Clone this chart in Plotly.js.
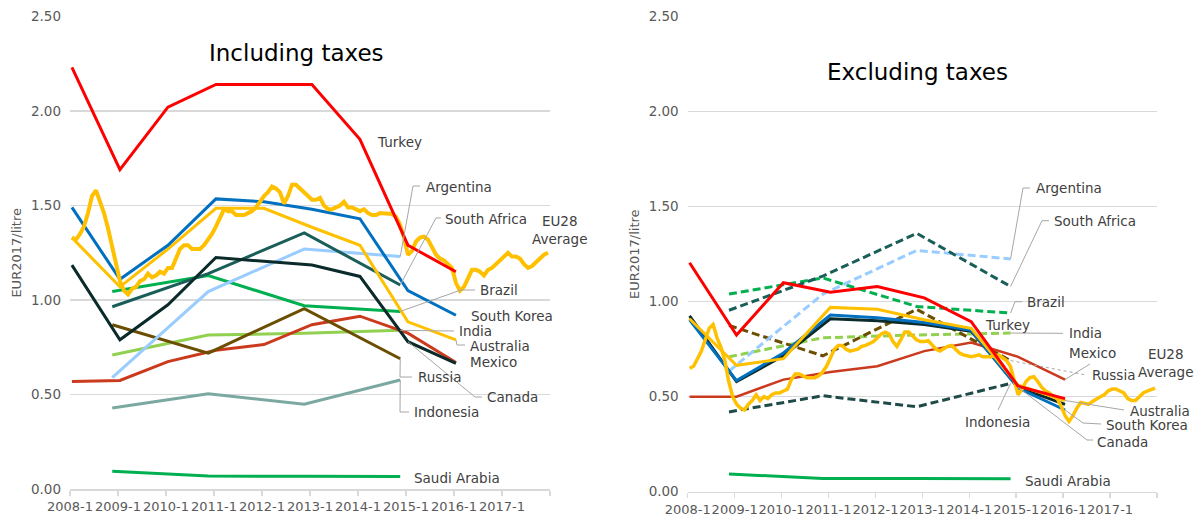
<!DOCTYPE html>
<html>
<head>
<meta charset="utf-8">
<script src="https://cdn.plot.ly/plotly-3.0.1.min.js"></script>
<style>html,body{margin:0;padding:0;background:#fff;}#chart{width:1203px;height:522px;}</style>
</head>
<body>
<div id="chart"></div>
<script>
// ---------- DATA ----------
const yearTicks = [2008, 2009, 2010, 2011, 2012, 2013, 2014, 2015, 2016, 2017, 2018];
const yearTickText = ['2008-1', '2009-1', '2010-1', '2011-1', '2012-1', '2013-1', '2014-1', '2015-1', '2016-1', '2017-1', ''];

// annual observations (January of each year)
const xJan = [2008.04, 2009.04, 2010.04, 2011.04, 2012.04, 2013.04, 2014.04, 2015.04, 2016.04];
// biennial observations (end of year)
const xDec = [2008.88, 2010.88, 2012.88, 2014.88];

// Including taxes (EUR2017/litre)
const turkeyInc      = [2.23, 1.69, 2.02, 2.14, 2.14, 2.14, 1.85, 1.29, 1.15];
const southKoreaInc  = [1.49, 1.11, 1.29, 1.535, 1.52, 1.48, 1.43, 1.05, 0.92];
const australiaInc   = [1.33, 1.07, 1.27, 1.485, 1.485, 1.385, 1.29, 0.885, 0.79];
const canadaInc      = [1.185, 0.79, 0.975, 1.225, 1.205, 1.185, 1.125, 0.78, 0.665];
const mexicoInc      = [0.57, 0.575, 0.675, 0.735, 0.765, 0.87, 0.915, 0.825, 0.67];
const argentinaInc   = [0.59, 1.045, 1.27, 1.23];
const southAfricaInc = [0.965, 1.14, 1.355, 1.08];
const brazilInc      = [1.045, 1.13, 0.97, 0.94];
const indiaInc       = [0.71, 0.815, 0.825, 0.84];
const russiaInc      = [0.87, 0.72, 0.955, 0.69];
const indonesiaInc   = [0.43, 0.505, 0.45, 0.578];
const saudiInc       = [0.095, 0.07, 0.069, 0.067];
const eu28Inc = [
  1.33, 1.32, 1.35, 1.39, 1.46, 1.55, 1.58, 1.52, 1.46, 1.38, 1.28, 1.18,
  1.10, 1.05, 1.03, 1.06, 1.07, 1.10, 1.11, 1.14, 1.12, 1.13, 1.15, 1.14,
  1.17, 1.17, 1.22, 1.27, 1.29, 1.29, 1.27, 1.27, 1.27, 1.29, 1.32, 1.35,
  1.39, 1.44, 1.48, 1.47, 1.47, 1.45, 1.45, 1.45, 1.46, 1.47, 1.49, 1.52,
  1.55, 1.57, 1.60, 1.59, 1.57, 1.51, 1.55, 1.61, 1.61, 1.59, 1.57, 1.55,
  1.53, 1.53, 1.54, 1.50, 1.48, 1.48, 1.49, 1.50, 1.52, 1.49, 1.49, 1.48,
  1.47, 1.48, 1.46, 1.45, 1.45, 1.46, 1.46, 1.46, 1.455, 1.44, 1.40, 1.33,
  1.24, 1.26, 1.31, 1.33, 1.335, 1.32, 1.28, 1.24, 1.22, 1.21, 1.19, 1.17,
  1.09, 1.05, 1.07, 1.11, 1.16, 1.16, 1.15, 1.13, 1.16, 1.17, 1.19, 1.21,
  1.23, 1.25, 1.23, 1.23, 1.22, 1.19, 1.17, 1.18, 1.20, 1.22, 1.24, 1.25
];

// Excluding taxes (EUR2017/litre)
const turkeyExc      = [1.205, 0.825, 1.10, 1.05, 1.08, 1.02, 0.895, 0.555, 0.49];
const southKoreaExc  = [0.905, 0.585, 0.73, 0.93, 0.915, 0.89, 0.85, 0.545, 0.43];
const australiaExc   = [0.91, 0.665, 0.70, 0.97, 0.96, 0.905, 0.86, 0.56, 0.48];
const canadaExc      = [0.925, 0.58, 0.715, 0.91, 0.90, 0.88, 0.845, 0.55, 0.46];
const mexicoExc      = [0.50, 0.50, 0.59, 0.63, 0.66, 0.74, 0.785, 0.71, 0.59];
const argentinaExc   = [0.635, 1.04, 1.27, 1.225];
const southAfricaExc = [0.955, 1.135, 1.36, 1.08];
const brazilExc      = [1.04, 1.125, 0.975, 0.94];
const indiaExc       = [0.71, 0.81, 0.825, 0.835];
const russiaExc      = [0.875, 0.715, 0.96, 0.69];
const indonesiaExc   = [0.42, 0.505, 0.447, 0.57];
const saudiExc       = [0.093, 0.07, 0.069, 0.068];
const eu28Exc = [
  0.65, 0.66, 0.70, 0.74, 0.80, 0.86, 0.88, 0.81, 0.76, 0.69, 0.58, 0.50,
  0.46, 0.44, 0.43, 0.46, 0.48, 0.51, 0.48, 0.50, 0.49, 0.51, 0.52, 0.52,
  0.53, 0.54, 0.59, 0.62, 0.62, 0.61, 0.60, 0.60, 0.60, 0.61, 0.63, 0.66,
  0.71, 0.75, 0.77, 0.77, 0.75, 0.74, 0.745, 0.75, 0.765, 0.77, 0.78, 0.79,
  0.81, 0.83, 0.84, 0.83, 0.79, 0.765, 0.80, 0.84, 0.84, 0.82, 0.80, 0.79,
  0.79, 0.795, 0.77, 0.75, 0.74, 0.755, 0.765, 0.77, 0.75, 0.73, 0.72, 0.715,
  0.71, 0.715, 0.72, 0.71, 0.71, 0.71, 0.715, 0.72, 0.705, 0.69, 0.66, 0.59,
  0.51, 0.54, 0.58, 0.60, 0.605, 0.58, 0.55, 0.53, 0.52, 0.50, 0.49, 0.45,
  0.40, 0.37, 0.40, 0.44, 0.47, 0.465, 0.46, 0.475, 0.49, 0.50, 0.51, 0.53,
  0.54, 0.54, 0.53, 0.52, 0.49, 0.48, 0.48, 0.50, 0.52, 0.53, 0.54, 0.545
];
// monthly positions 2008-1 .. 2017-12 (mid-month)
const xMonthly = eu28Inc.map((_, i) => 2008 + (i + 0.5) / 12);

// ---------- STYLE ----------
const C = {
  turkey: '#FF0000', southKorea: '#0070C0', australia: '#FFC000', eu28: '#FFC000',
  canada: '#0B2A2A', mexico: '#CC3A1E', argentina: '#99CCFF', southAfrica: '#1A5E5A',
  brazil: '#00B050', india: '#92D050', russia: '#6B4E00', indonesiaInc: '#7BA8A1',
  indonesiaExc: '#1E4A48', saudi: '#00B050'
};
const FONT = 'DejaVu Sans, Verdana, sans-serif';
const LABEL = '#404040';
const LEAD = '#A6A6A6';

function tr(x, y, color, width, axis, dash) {
  return {
    x: x, y: y, type: 'scatter', mode: 'lines', hoverinfo: 'skip', showlegend: false,
    xaxis: axis === 2 ? 'x2' : 'x', yaxis: axis === 2 ? 'y2' : 'y',
    line: { color: color, width: width, dash: dash || 'solid' }
  };
}
const D = '8px,4px';

const traces = [
  // Including taxes
  tr(xDec, saudiInc, C.saudi, 3, 1),
  tr(xDec, indonesiaInc, C.indonesiaInc, 3, 1),
  tr(xDec, indiaInc, C.india, 3, 1),
  tr(xJan, mexicoInc, C.mexico, 3, 1),
  tr(xDec, russiaInc, C.russia, 3, 1),
  tr(xDec, brazilInc, C.brazil, 3, 1),
  tr(xDec, argentinaInc, C.argentina, 3, 1),
  tr(xDec, southAfricaInc, C.southAfrica, 3, 1),
  tr(xJan, canadaInc, C.canada, 3, 1),
  tr(xJan, australiaInc, C.australia, 3, 1),
  tr(xJan, southKoreaInc, C.southKorea, 3, 1),
  tr(xMonthly, eu28Inc, C.eu28, 4, 1),
  tr(xJan, turkeyInc, C.turkey, 3, 1),
  // Excluding taxes
  tr(xDec, saudiExc, C.saudi, 3, 2),
  tr(xDec, indonesiaExc, C.indonesiaExc, 3, 2, D),
  tr(xDec, indiaExc, C.india, 3, 2, D),
  tr(xDec, russiaExc, C.russia, 3, 2, D),
  tr(xDec, brazilExc, C.brazil, 3, 2, D),
  tr(xDec, argentinaExc, C.argentina, 3, 2, D),
  tr(xDec, southAfricaExc, C.southAfrica, 3, 2, D),
  tr(xJan, mexicoExc, C.mexico, 2.5, 2),
  tr(xJan, canadaExc, C.canada, 3, 2),
  tr(xJan, southKoreaExc, C.southKorea, 3, 2),
  tr(xJan, australiaExc, C.australia, 3, 2),
  tr(xMonthly, eu28Exc, C.eu28, 3.5, 2),
  tr(xJan, turkeyExc, C.turkey, 3, 2)
];

// ---------- LAYOUT HELPERS (pixel -> axis / paper) ----------
const W = 1203, H = 522;
const L = { x0: 70, x1: 550, y0: 489.3, y1: 16.3 };
const R = { x0: 687.7, x1: 1157, y0: 491.7, y1: 16.7 };
const lx = px => 2008 + (px - L.x0) / (L.x1 - L.x0) * 10;
const ly = py => (L.y0 - py) / (L.y0 - L.y1) * 2.5;
const rx = px => 2008 + (px - R.x0) / (R.x1 - R.x0) * 10;
const ry = py => (R.y0 - py) / (R.y0 - R.y1) * 2.5;
const last = (xs, ys) => [xs[xs.length - 1], ys[ys.length - 1]];

function lead(pts, axis, dash) {
  const d = pts.map((p, i) => (i ? 'L' : 'M') + p[0] + ',' + p[1]).join(' ');
  return {
    type: 'path', path: d, xref: axis === 2 ? 'x2' : 'x', yref: axis === 2 ? 'y2' : 'y',
    line: { color: LEAD, width: 1, dash: dash || 'solid' }, layer: 'above'
  };
}

const shapes = [
  // left
  lead([last(xDec, argentinaInc), [lx(413), ly(186)], [lx(420), ly(186)]], 1),
  lead([last(xDec, southAfricaInc), [lx(436), ly(218)], [lx(441), ly(218)]], 1),
  lead([last(xDec, brazilInc), [lx(461), ly(290)], [lx(475), ly(290)]], 1),
  lead([last(xDec, indiaInc), [lx(454), ly(331)]], 1),
  lead([last(xJan, australiaInc), [lx(457), ly(345)], [lx(465), ly(345)]], 1),
  lead([last(xDec, russiaInc), [lx(400), ly(377)], [lx(412), ly(377)]], 1),
  lead([[xJan[7], canadaInc[7]], [lx(475), ly(397)], [lx(482), ly(397)]], 1),
  lead([last(xDec, indonesiaInc), [lx(400), ly(412)], [lx(409), ly(412)]], 1),
  // right
  lead([last(xDec, argentinaExc), [rx(1023), ry(188)], [rx(1030), ry(188)]], 2),
  lead([last(xDec, southAfricaExc), [rx(1042), ry(220.7)], [rx(1049), ry(220.7)]], 2),
  lead([last(xDec, brazilExc), [rx(1015), ry(301.7)], [rx(1022), ry(301.7)]], 2),
  lead([last(xDec, indiaExc), [rx(1063), ry(333.3)]], 2),
  lead([last(xJan, mexicoExc), [rx(1090), ry(364)]], 2),
  lead([last(xDec, russiaExc), [rx(1086), ry(375)]], 2, 'dot'),
  lead([last(xJan, australiaExc), [rx(1124), ry(410)]], 2),
  lead([last(xJan, southKoreaExc), [rx(1083), ry(423)], [rx(1101), ry(424)]], 2),
  lead([[xJan[7], canadaExc[7]], [rx(1087), ry(440)], [rx(1093), ry(440)]], 2),
  lead([last(xDec, indonesiaExc), [rx(998), ry(410)]], 2)
];

function lab(text, px, py, anchor, size) {
  return {
    text: text, xref: 'paper', yref: 'paper', x: px / W, y: 1 - py / H,
    xanchor: anchor || 'left', yanchor: 'middle', showarrow: false, align: 'center',
    font: { family: FONT, size: size || 13.5, color: LABEL }
  };
}

const annotations = [
  // panel titles
  { text: 'Including taxes', xref: 'paper', yref: 'paper', x: 296 / W, y: 1 - 53 / H,
    xanchor: 'center', yanchor: 'middle', showarrow: false, font: { family: FONT, size: 23, color: '#000' } },
  { text: 'Excluding taxes', xref: 'paper', yref: 'paper', x: 917 / W, y: 1 - 72 / H,
    xanchor: 'center', yanchor: 'middle', showarrow: false, font: { family: FONT, size: 23, color: '#000' } },
  // left labels
  lab('Turkey', 375, 142), lab('Argentina', 424, 187), lab('South Africa', 443, 219),
  lab('EU28<br>Average', 559, 230, 'center'), lab('Brazil', 478, 290),
  lab('South Korea', 469, 316), lab('India', 457, 331), lab('Australia', 468, 346),
  lab('Mexico', 468, 362), lab('Russia', 416, 377), lab('Canada', 485, 397),
  lab('Indonesia', 412, 412), lab('Saudi Arabia', 412, 478),
  // right labels
  lab('Argentina', 1034, 188), lab('South Africa', 1052, 221), lab('Brazil', 1025, 302),
  lab('Turkey', 983, 325), lab('India', 1067, 333), lab('Mexico', 1067, 353),
  lab('Russia', 1090, 375), lab('EU28<br>Average', 1165, 363, 'center'),
  lab('Australia', 1128, 411), lab('Indonesia', 963, 422), lab('South Korea', 1104, 425),
  lab('Canada', 1095, 442), lab('Saudi Arabia', 1023, 481)
];

function xax(x0, x1) {
  return {
    domain: [x0 / W, x1 / W], range: [2008, 2018], type: 'linear',
    tickmode: 'array', tickvals: yearTicks, ticktext: yearTickText, tickangle: 0,
    showgrid: false, zeroline: false, showline: true, linecolor: '#D9D9D9', linewidth: 1.5,
    ticks: 'outside', ticklen: 5, tickcolor: '#D9D9D9', tickwidth: 1.5,
    tickfont: { family: FONT, size: 13, color: '#595959' }, fixedrange: true
  };
}
function yax(b, t) {
  return {
    domain: [1 - b / H, 1 - t / H], range: [0, 2.5], tickvals: [0, 0.5, 1, 1.5, 2, 2.5],
    tickformat: '.2f', showgrid: true, gridcolor: '#D9D9D9', gridwidth: 1.5,
    zeroline: false, showline: false, ticks: '', ticklabelstandoff: 8,
    tickfont: { family: FONT, size: 13.5, color: '#595959' },
    title: { text: 'EUR2017/litre', standoff: 6, font: { family: FONT, size: 13, color: '#595959' } },
    fixedrange: true
  };
}

const layout = {
  width: W, height: H, autosize: false,
  margin: { l: 0, r: 0, t: 0, b: 0 },
  paper_bgcolor: '#ffffff', plot_bgcolor: '#ffffff',
  showlegend: false,
  xaxis: Object.assign(xax(L.x0, L.x1), { anchor: 'y' }),
  yaxis: Object.assign(yax(L.y0, L.y1), { anchor: 'x' }),
  xaxis2: Object.assign(xax(R.x0, R.x1), { anchor: 'y2' }),
  yaxis2: Object.assign(yax(R.y0, R.y1), { anchor: 'x2' }),
  shapes: shapes,
  annotations: annotations
};

Plotly.newPlot('chart', traces, layout, { displayModeBar: false, staticPlot: true });
</script>
</body>
</html>
